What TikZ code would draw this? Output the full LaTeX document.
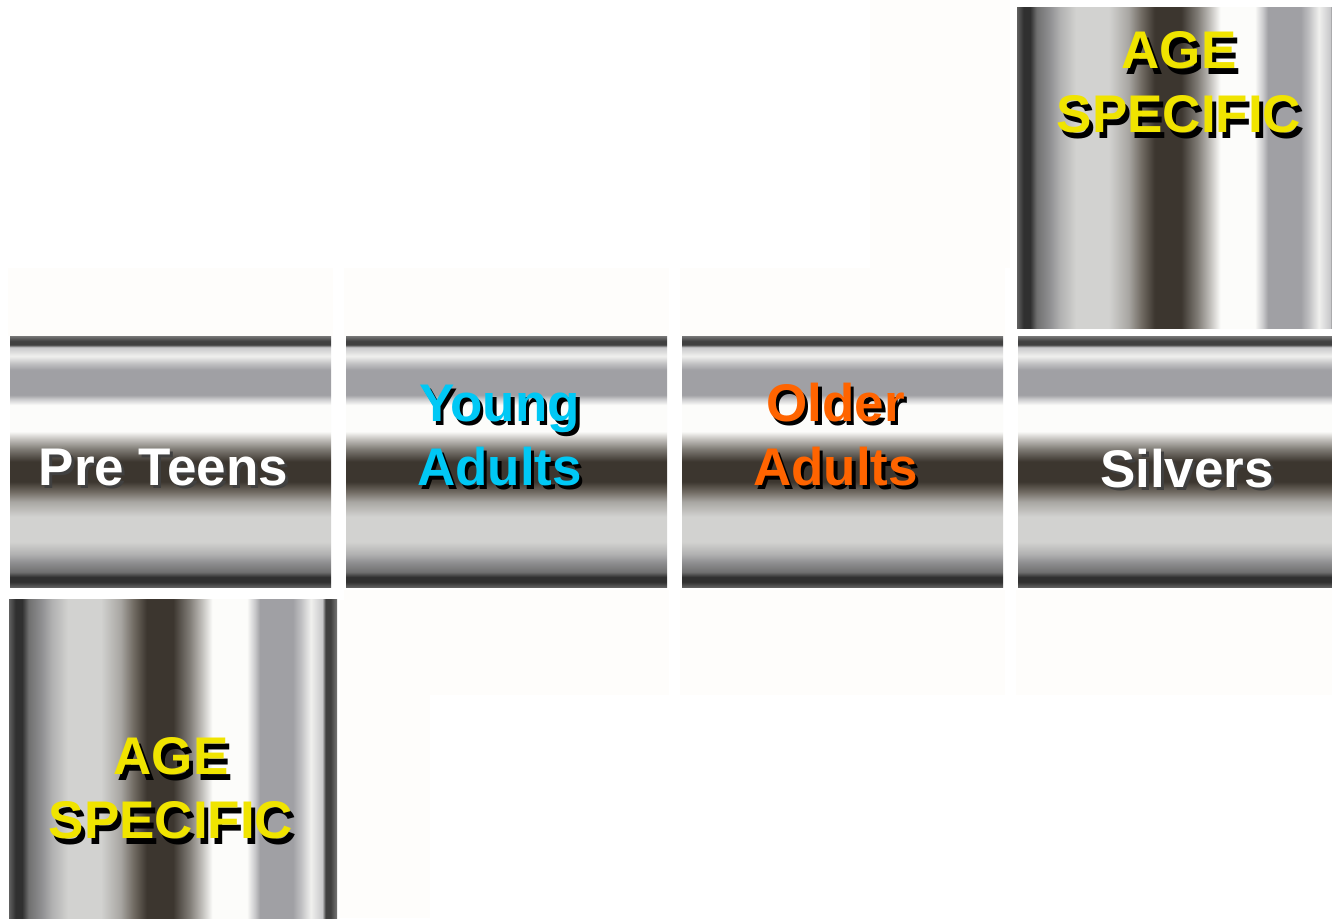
\documentclass[tikz,border=0pt]{standalone}
\usepackage{fontspec}
\setmainfont{Liberation Sans}
\usetikzlibrary{shadings}

% brushed-metal colour bands
\definecolor{mA}{RGB}{96,96,96}
\definecolor{mB}{RGB}{48,48,48}
\definecolor{mC}{RGB}{112,112,112}
\definecolor{mD}{RGB}{144,144,146}
\definecolor{mE}{RGB}{176,176,176}
\definecolor{mF}{RGB}{210,210,208}
\definecolor{mG}{RGB}{168,166,162}
\definecolor{mH}{RGB}{112,106,98}
\definecolor{mI}{RGB}{60,54,47}
\definecolor{mJ}{RGB}{128,124,118}
\definecolor{mK}{RGB}{196,194,190}
\definecolor{mL}{RGB}{252,252,250}
\definecolor{mM}{RGB}{200,200,202}
\definecolor{mN}{RGB}{160,160,164}
\definecolor{mO}{RGB}{192,192,194}
\definecolor{mP}{RGB}{240,240,238}
\definecolor{mQ}{RGB}{64,64,64}
\definecolor{mR}{RGB}{119,119,119}
\definecolor{faint}{RGB}{254,253,251}
\definecolor{cyanText}{RGB}{0,200,245}
\definecolor{orangeText}{RGB}{255,100,0}
\definecolor{yellowText}{RGB}{240,228,0}

% metal profile, bottom to top
\pgfdeclareverticalshading{metalbar}{100bp}{%
color(0bp)=(mA); color(25bp)=(mA); color(26bp)=(mB); color(27bp)=(mB);
color(28bp)=(mC); color(30bp)=(mD); color(31.5bp)=(mE); color(34bp)=(mF);
color(39bp)=(mF); color(42bp)=(mG); color(44bp)=(mH); color(46bp)=(mI);
color(50bp)=(mI); color(52.5bp)=(mJ); color(54.5bp)=(mK); color(56bp)=(mL);
color(61.25bp)=(mL); color(62.5bp)=(mM); color(63.25bp)=(mN); color(68.25bp)=(mN);
color(69.5bp)=(mO); color(71bp)=(mP); color(72.75bp)=(mM); color(73.25bp)=(mQ);
color(74bp)=(mQ); color(75bp)=(mR); color(100bp)=(mR)}
% same profile, left to right
\pgfdeclarehorizontalshading{metalcol}{100bp}{%
color(0bp)=(mA); color(25bp)=(mA); color(26bp)=(mB); color(27bp)=(mB);
color(28bp)=(mC); color(30bp)=(mD); color(31.5bp)=(mE); color(34bp)=(mF);
color(39bp)=(mF); color(42bp)=(mG); color(44bp)=(mH); color(46bp)=(mI);
color(50bp)=(mI); color(52.5bp)=(mJ); color(54.5bp)=(mK); color(56bp)=(mL);
color(61.25bp)=(mL); color(62.5bp)=(mM); color(63.25bp)=(mN); color(68.25bp)=(mN);
color(69.5bp)=(mO); color(71bp)=(mP); color(72.75bp)=(mM); color(73.25bp)=(mQ);
color(74bp)=(mQ); color(75bp)=(mR); color(100bp)=(mR)}

\tikzset{
  barbox/.style={shading=metalbar},
  colbox/.style={shading=metalcol},
  label/.style={font=\bfseries\fontsize{53}{64}\selectfont, inner sep=0pt, align=center, anchor=base},
  shadowtext/.style={label, text=black},
  softshadow/.style={label, text=black!75},
}

\begin{document}
\begin{tikzpicture}[x=1pt,y=-1pt]
\useasboundingbox (0,0) rectangle (1332,918);
\clip (0,0) rectangle (1332,918);
\fill[white] (0,0) rectangle (1332,918);

% faint backing panels
\fill[faint] (8,268) rectangle (333,336);
\fill[faint] (344,268) rectangle (669,336);
\fill[faint] (680,268) rectangle (1005,336);
\fill[faint] (870,0) rectangle (1010,268);
\fill[faint] (344,590) rectangle (669,695);
\fill[faint] (680,590) rectangle (1005,695);
\fill[faint] (1016,590) rectangle (1332,695);
\fill[faint] (340,600) rectangle (430,918);

% horizontal metal bars
\path[barbox] (10,336) rectangle (331,587);
\path[barbox] (346,336) rectangle (667,587);
\path[barbox] (682,336) rectangle (1003,587);
\path[barbox] (1018,336) rectangle (1339,587);

% vertical metal columns
\path[colbox] (1017,7) rectangle (1345,328);
\path[colbox] (9,599) rectangle (337,920);

% bar labels with drop shadows (anchor on the last line's baseline)
\node[softshadow] (preS) at (166.5,488) {Pre Teens};
\node[label, text=white] (pre) at (163.5,485) {Pre Teens};

\node[shadowtext] (youngS) at (503,489) {Young\\Adults};
\node[label, text=cyanText] (young) at (499.5,485) {Young\\Adults};

\node[shadowtext] (olderS) at (839,489) {Older\\Adults};
\node[label, text=orangeText] (older) at (835.5,485) {Older\\Adults};

\node[softshadow] (silS) at (1190,490) {Silvers};
\node[label, text=white] (sil) at (1187,487) {Silvers};

% column labels
\node[shadowtext] (ageTS) at (1183,138) {AGE\\SPECIFIC};
\node[label, text=yellowText] (ageT) at (1179,132) {AGE\\SPECIFIC};

\node[shadowtext] (ageBS) at (175,844) {AGE\\SPECIFIC};
\node[label, text=yellowText] (ageB) at (171,838) {AGE\\SPECIFIC};
\end{tikzpicture}
\end{document}
